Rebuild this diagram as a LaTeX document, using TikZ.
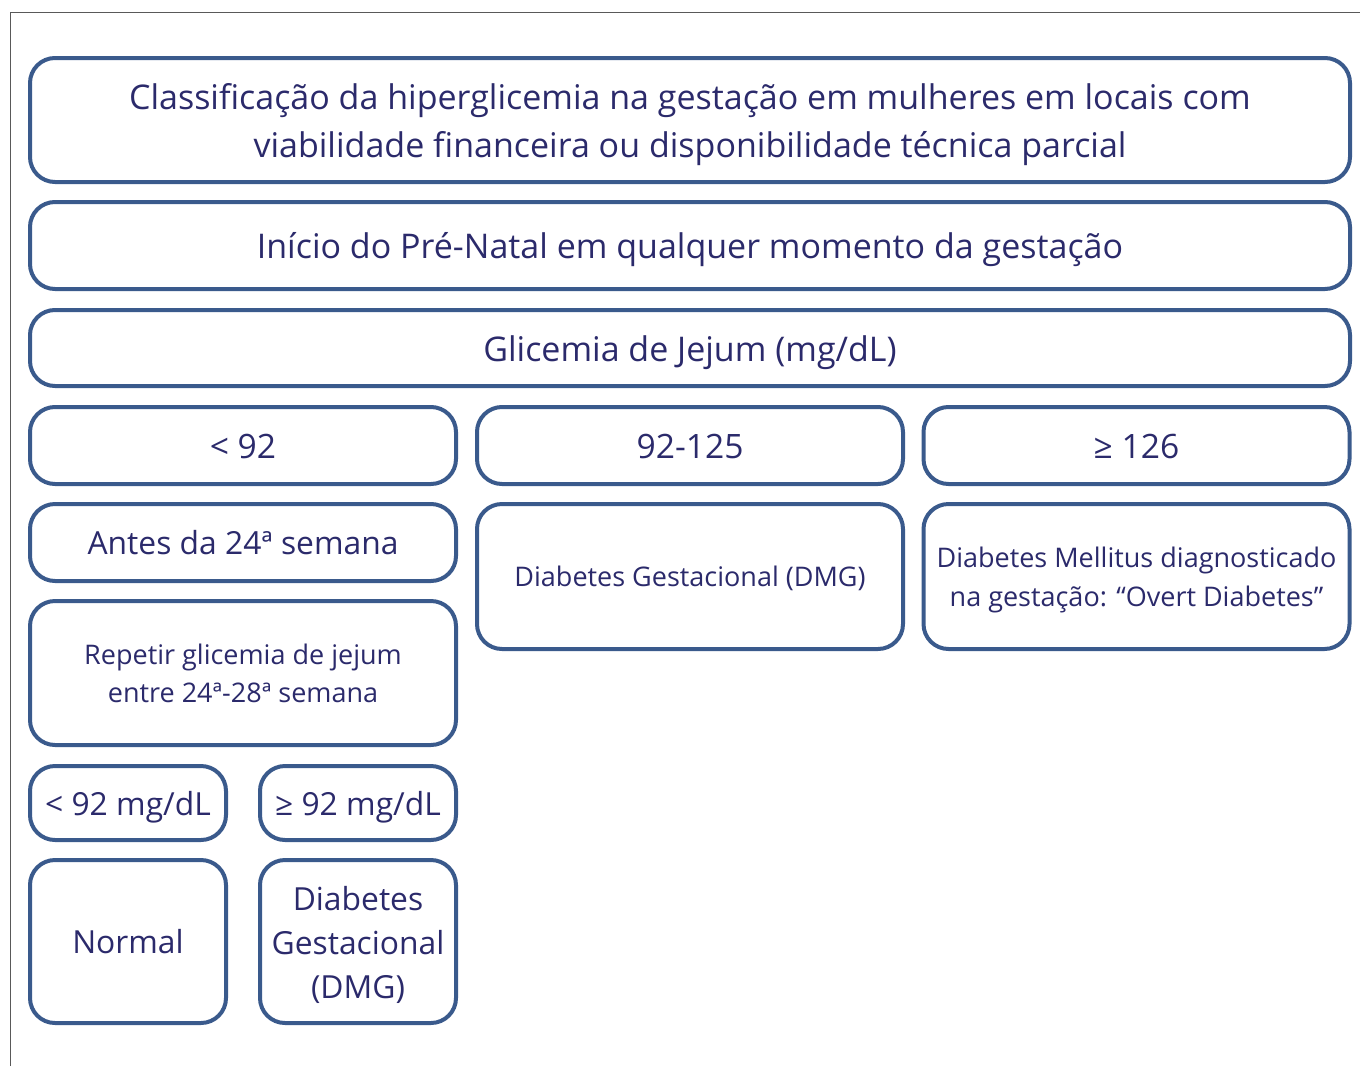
\documentclass[tikz,border=0pt]{standalone}
\usepackage{fontspec}
\setmainfont{Open Sans}
\usepackage{tikz}
\usetikzlibrary{positioning}

\definecolor{boxline}{HTML}{3A5A8C}
\definecolor{boxtext}{HTML}{2B2A6B}

\tikzset{
    cell/.style = {draw = boxline, line width = 2pt, rounded corners = 12.5pt,
                   text = boxtext, align = center, inner sep = 0pt},
    topfont/.style = {font = \fontsize{17}{24}\selectfont},
    rowfont/.style = {font = \fontsize{16.8}{23}\selectfont},
    lowfont/.style = {font = \fontsize{15.9}{22}\selectfont},
    smallfont/.style = {font = \fontsize{13.5}{19.2}\selectfont},
    % last baseline of the text, set below the centre
    sink/.style = {text height = #1, text depth = 0pt}
}

\begin{document}
\begin{tikzpicture}[x = 0.5pt, y = -0.5pt]

        \def\wideW{660pt}
        \def\colW{213pt}
        \def\halfW{98pt}

        \useasboundingbox (0, 0) rectangle (1360, 1066);

        % frame line at top and left
        \draw[gray!70!black, line width = 0.5pt] (10, 1066) -- (10, 12) -- (1360, 12);

        % full-width rows
        \node[cell, topfont, sink = 37pt, minimum width = \wideW, minimum height = 62pt] (title) at (690, 120)
            {Classificação da hiperglicemia na gestação em mulheres em locais com\\viabilidade financeira ou disponibilidade técnica parcial};
        \node[cell, topfont, sink = 13pt, minimum width = \wideW, minimum height = 43.5pt] (inicio) at (690, 245.5)
            {Início do Pré-Natal em qualquer momento da gestação};
        \node[cell, topfont, sink = 13pt, minimum width = \wideW, minimum height = 38pt] (jejum) at (690, 348)
            {Glicemia de Jejum (mg/dL)};

        % three ranges
        \foreach \cx/\name/\range in {243/low/{< 92}, 690/mid/{92-125}, 1136.5/high/{≥ 126}} {
            \node[cell, rowfont, sink = 12.5pt, minimum width = \colW, minimum height = 38.5pt] (\name) at (\cx, 445.5) {\range};
        }

        % outcomes per range
        \node[cell, lowfont, sink = 12pt, minimum width = \colW, minimum height = 38.5pt] (antes) at (243, 542.5)
            {Antes da 24ª semana};
        \node[cell, smallfont, sink = 9.5pt, minimum width = \colW, minimum height = 72.5pt] (dmg) at (690, 576.5)
            {Diabetes Gestacional (DMG)};
        \node[cell, smallfont, sink = 29.5pt, minimum width = \colW, minimum height = 72.5pt] (overt) at (1136.5, 576.5)
            {Diabetes Mellitus diagnosticado\\na gestação: “Overt Diabetes”};
        \node[cell, smallfont, sink = 29.5pt, minimum width = \colW, minimum height = 72pt] (repetir) at (243, 673)
            {Repetir glicemia de jejum\\entre 24ª-28ª semana};

        % second fasting test
        \node[cell, lowfont, sink = 12pt, minimum width = \halfW, minimum height = 37pt] (lowtwo) at (128, 803) {< 92 mg/dL};
        \node[cell, lowfont, sink = 12pt, minimum width = \halfW, minimum height = 37pt] (hightwo) at (358, 803) {≥ 92 mg/dL};
        \node[cell, lowfont, sink = 12pt, minimum width = \halfW, minimum height = 81.5pt] (normal) at (128, 941.5) {Normal};
        \node[cell, lowfont, sink = 57pt, minimum width = \halfW, minimum height = 81.5pt] (dmgtwo) at (358, 941.5)
            {Diabetes\\Gestacional\\(DMG)};

    \end{tikzpicture}
\end{document}
